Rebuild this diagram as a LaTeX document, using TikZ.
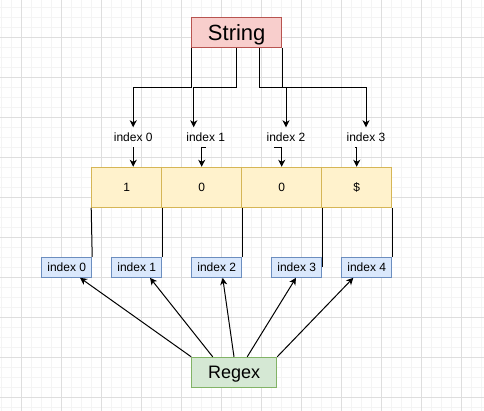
\documentclass[tikz,border=0pt]{standalone}
\usepackage{fontspec}
\setmainfont{Liberation Sans}
\usetikzlibrary{arrows.meta}
\definecolor{strfill}{HTML}{F8CECC}
\definecolor{strdraw}{HTML}{B85450}
\definecolor{cellfill}{HTML}{FFF2CC}
\definecolor{celldraw}{HTML}{D6B656}
\definecolor{idxfill}{HTML}{DAE8FC}
\definecolor{idxdraw}{HTML}{6C8EBF}
\definecolor{rgfill}{HTML}{D5E8D4}
\definecolor{rgdraw}{HTML}{82B366}
\definecolor{gridminor}{HTML}{F4F4F4}
\definecolor{gridmajor}{HTML}{DEDEDE}
\tikzset{
  box/.style={draw, line width=1pt, inner sep=0pt, text depth=0pt},
  strbox/.style={box, fill=strfill, draw=strdraw, minimum width=90pt, minimum height=30pt,
    font=\fontsize{22}{26}\selectfont, text height=15.5pt},
  rgbox/.style={box, fill=rgfill, draw=rgdraw, minimum width=85pt, minimum height=30pt,
    font=\fontsize{18}{22}\selectfont, text height=12.5pt},
  cellbox/.style={box, fill=cellfill, draw=celldraw, minimum height=40pt,
    font=\fontsize{12}{14}\selectfont, text height=9pt},
  idxbox/.style={box, fill=idxfill, draw=idxdraw, minimum width=50pt, minimum height=20pt,
    font=\fontsize{12}{14}\selectfont, text height=8.8pt},
  lbl/.style={anchor=north, inner xsep=1pt, inner ysep=5.5pt, text height=8.6pt, text depth=0pt,
    font=\fontsize{12}{14}\selectfont},
  arr/.style={draw=black, line width=1pt, -{Stealth[length=7pt,width=7pt,inset=2pt]}},
  ln/.style={draw=black, line width=1pt},
}
\begin{document}
\begin{tikzpicture}[x=1pt,y=-1pt]
\useasboundingbox (0,0) rectangle (484,410);
\fill[white] (0,0) rectangle (484,410);
\begin{scope}
\clip (0,0) rectangle (484,410);
\begin{scope}[shift={(1.7,7.3)}]
\foreach \i in {0,10,...,480} \draw[gridminor, line width=1pt] (\i,-10) -- (\i,410);
\foreach \j in {0,10,...,400} \draw[gridminor, line width=1pt] (-10,\j) -- (490,\j);
\foreach \i in {20,60,...,460} \draw[gridmajor, line width=1pt] (\i,-10) -- (\i,410);
\foreach \j in {-10,30,...,390} \draw[gridmajor, line width=1pt] (-10,\j) -- (490,\j);
\end{scope}
\end{scope}
\begin{scope}[shift={(1.7,7.3)}]
% String
\node[strbox] (str) at (235,25) {String};
% index labels
\node[lbl] (l0) at (131.5,120) {index 0};
\node[lbl] (l1) at (204,120) {index 1};
\node[lbl] (l2) at (284.3,120) {index 2};
\node[lbl] (l3) at (364.3,120) {index 3};
% cells
\node[cellbox, minimum width=70pt] (c1) at (125,180) {1};
\node[cellbox, minimum width=80pt] (c2) at (200,180) {0};
\node[cellbox, minimum width=80pt] (c3) at (280,180) {0};
\node[cellbox, minimum width=70pt] (c4) at (355,180) {\$};
% index boxes
\node[idxbox] (i0) at (65,260) {index 0};
\node[idxbox] (i1) at (135,260) {index 1};
\node[idxbox] (i2) at (215,260) {index 2};
\node[idxbox] (i3) at (295,260) {index 3};
\node[idxbox] (i4) at (365,260) {index 4};
% Regex
\node[rgbox] (rg) at (232.5,365) {Regex};
% String -> labels
\draw[arr] (str.south west) -- ++(0,40) -| (l0.north);
\draw[arr] ([xshift=-0.7pt]str.south) -- ++(0,40) -| ([xshift=-12pt]l1.north);
\draw[arr] ([xshift=22.3pt]str.south) -- ++(0,40) -| (l2.north);
\draw[arr] (str.south east) -- ++(0,40) -| (l3.north);
% labels -> cells
\draw[arr] (l0.south) -- (l0.south |- c1.north);
\draw[arr] (l1.south) -| (c2.north);
\draw[arr] ([xshift=-12pt]l2.south) -| (c3.north);
\draw[arr] ([xshift=-11pt]l3.south) -| (c4.north);
% cells -> index boxes
\draw[ln] (c1.south west) -- (i0.north east);
\draw[ln] (c1.south east) -- (i1.north east);
\draw[ln] (c2.south east) -- (i2.north east);
\draw[ln] (c3.south east) -- (i3.east);
\draw[ln] (c4.south east) -- (i4.north east);
% Regex -> index boxes
\draw[arr] (rg.north west) -- ([xshift=13.3pt]i0.south);
\draw[arr] ([xshift=-21.5pt]rg.north) -- ([xshift=13.3pt]i1.south);
\draw[arr] ([xshift=-0.2pt]rg.north) -- ([xshift=6pt]i2.south);
\draw[arr] ([xshift=13pt]rg.north) -- ([xshift=-0.7pt]i3.south);
\draw[arr] (rg.north east) -- ([xshift=-13.4pt]i4.south);
\end{scope}
\end{tikzpicture}
\end{document}
